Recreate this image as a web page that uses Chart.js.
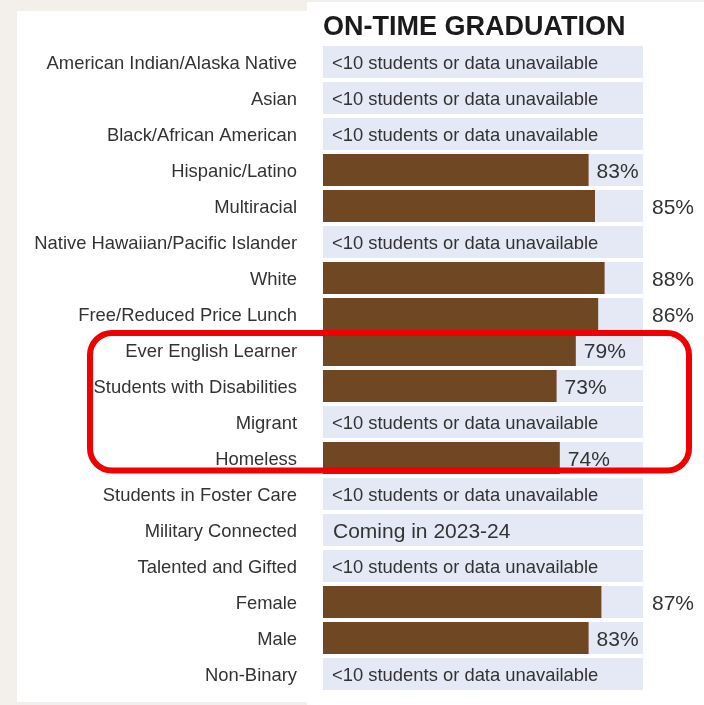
<!DOCTYPE html>
<html>
<head>
<meta charset="utf-8">
<script src="https://cdn.jsdelivr.net/npm/chart.js@4"></script>
<style>
    html, body { margin: 0; padding: 0; background: #f3f0eb; }
    #wrap { position: relative; width: 704px; height: 705px; overflow: hidden; }
    .panel { position: absolute; background: #ffffff; }
    #leftPanel { left: 17px; top: 11px; width: 290px; height: 691px; }
    #rightPanel { left: 307px; top: 2px; width: 397px; height: 703px; }
    canvas { position: absolute; left: 0; top: 0; }
</style>
</head>
<body>
<div id="wrap">
    <div class="panel" id="leftPanel"></div>
    <div class="panel" id="rightPanel"></div>
    <canvas id="myChart" width="704" height="705"></canvas>
</div>

<script>
const labels =
[
    'American Indian/Alaska Native',
    'Asian',
    'Black/African American',
    'Hispanic/Latino',
    'Multiracial',
    'Native Hawaiian/Pacific Islander',
    'White',
    'Free/Reduced Price Lunch',
    'Ever English Learner',
    'Students with Disabilities',
    'Migrant',
    'Homeless',
    'Students in Foster Care',
    'Military Connected',
    'Talented and Gifted',
    'Female',
    'Male',
    'Non-Binary'
];

// graduation rate in percent, null where nothing is reported
const rates = [null, null, null, 83, 85, null, 88, 86, 79, 73, null, 74, null, null, null, 87, 83, null];

const NO_DATA = '<10 students or data unavailable';
const notes =
[
    NO_DATA, NO_DATA, NO_DATA, '', '', NO_DATA, '', '', '', '', NO_DATA, '',
    NO_DATA, 'Coming in 2023-24', NO_DATA, '', '', NO_DATA
];

// full-width background track behind each bar
const trackMax = 100;
const track = labels.map(() => trackMax);

// rows inside the red highlight box
const highlightFrom = 'Ever English Learner';
const highlightTo = 'Homeless';

const brown = 'rgb(111, 71, 35)';
const lavender = 'rgb(229, 233, 246)';
const textColor = '#333333';
const fontFamily = '"Liberation Sans", Arial, sans-serif';

const barText =
{
    id: 'barText',
    afterDatasetsDraw(chart)
    {
        const ctx = chart.ctx;
        const area = chart.chartArea;
        const meta = chart.getDatasetMeta(0);
        ctx.save();
        ctx.textBaseline = 'middle';
        ctx.textAlign = 'left';
        ctx.fillStyle = textColor;

        for(let i = 0; i < labels.length; i++)
        {
            const y = chart.scales.y.getPixelForValue(i) + 2;
            if(rates[i] === null)
            {
                const big = notes[i].startsWith('Coming');
                ctx.font = (big ? '21px ' : '18.4px ') + fontFamily;
                ctx.fillText(notes[i], area.left + (big ? 10 : 9), y);
                continue;
            }
            // percent goes right after the bar, or past the track when it does not fit
            const text = rates[i] + '%';
            ctx.font = '21px ' + fontFamily;
            const w = ctx.measureText(text).width;
            const end = meta.data[i].x;
            let x = end + 8;
            if(x + w > area.right)
            {
                x = area.right + 9;
            }
            ctx.fillText(text, x, y);
        }
        ctx.restore();
    },
    afterDraw(chart)
    {
        const ctx = chart.ctx;
        const y = chart.scales.y;
        const top = y.getPixelForValue(labels.indexOf(highlightFrom)) - 17;
        const bottom = y.getPixelForValue(labels.indexOf(highlightTo)) + 12.5;
        ctx.save();
        ctx.strokeStyle = '#f00000';
        ctx.lineWidth = 6;
        ctx.beginPath();
        ctx.roundRect(90, top, 599, bottom - top, 22);
        ctx.stroke();
        ctx.restore();
    }
};

const config =
{
    type: 'bar',
    data:
    {
        labels: labels,
        datasets:
        [
            {
                label: 'On-time graduation',
                data: rates,
                backgroundColor: brown,
                grouped: false,
                barPercentage: 1,
                categoryPercentage: 0.89
            },
            {
                label: 'Track',
                data: track,
                backgroundColor: lavender,
                grouped: false,
                barPercentage: 1,
                categoryPercentage: 0.89
            }
        ]
    },
    options:
    {
        indexAxis: 'y',
        responsive: false,
        animation: false,
        layout: { autoPadding: false, padding: { left: 0, right: 61, top: 0, bottom: 13 } },
        plugins:
        {
            legend: { display: false },
            tooltip: { enabled: false }
        },
        scales:
        {
            x:
            {
                position: 'top',
                min: 0,
                max: 100,
                grid: { display: false, drawTicks: false },
                border: { display: false },
                ticks: { display: false },
                title:
                {
                    display: true,
                    text: 'ON-TIME GRADUATION',
                    align: 'start',
                    color: '#1b1b1b',
                    font: { family: fontFamily, size: 27, weight: 'bold', lineHeight: 1.2 },
                    padding: { top: 11, bottom: 0 }
                },
                afterFit(scale) { scale.height = 44; }
            },
            y:
            {
                grid: { display: false, drawTicks: false },
                border: { display: false },
                ticks:
                {
                    color: textColor,
                    padding: 26,
                    labelOffset: 2,
                    autoSkip: false,
                    font: { family: fontFamily, size: 18.4 }
                },
                afterFit(scale)
                {
                    scale.width = 323;
                    // labels must not push the plot area in from top or bottom
                    scale.paddingTop = 0;
                    scale.paddingBottom = 0;
                }
            }
        }
    },
    plugins: [barText]
};

new Chart(document.getElementById('myChart'), config);
</script>
</body>
</html>
